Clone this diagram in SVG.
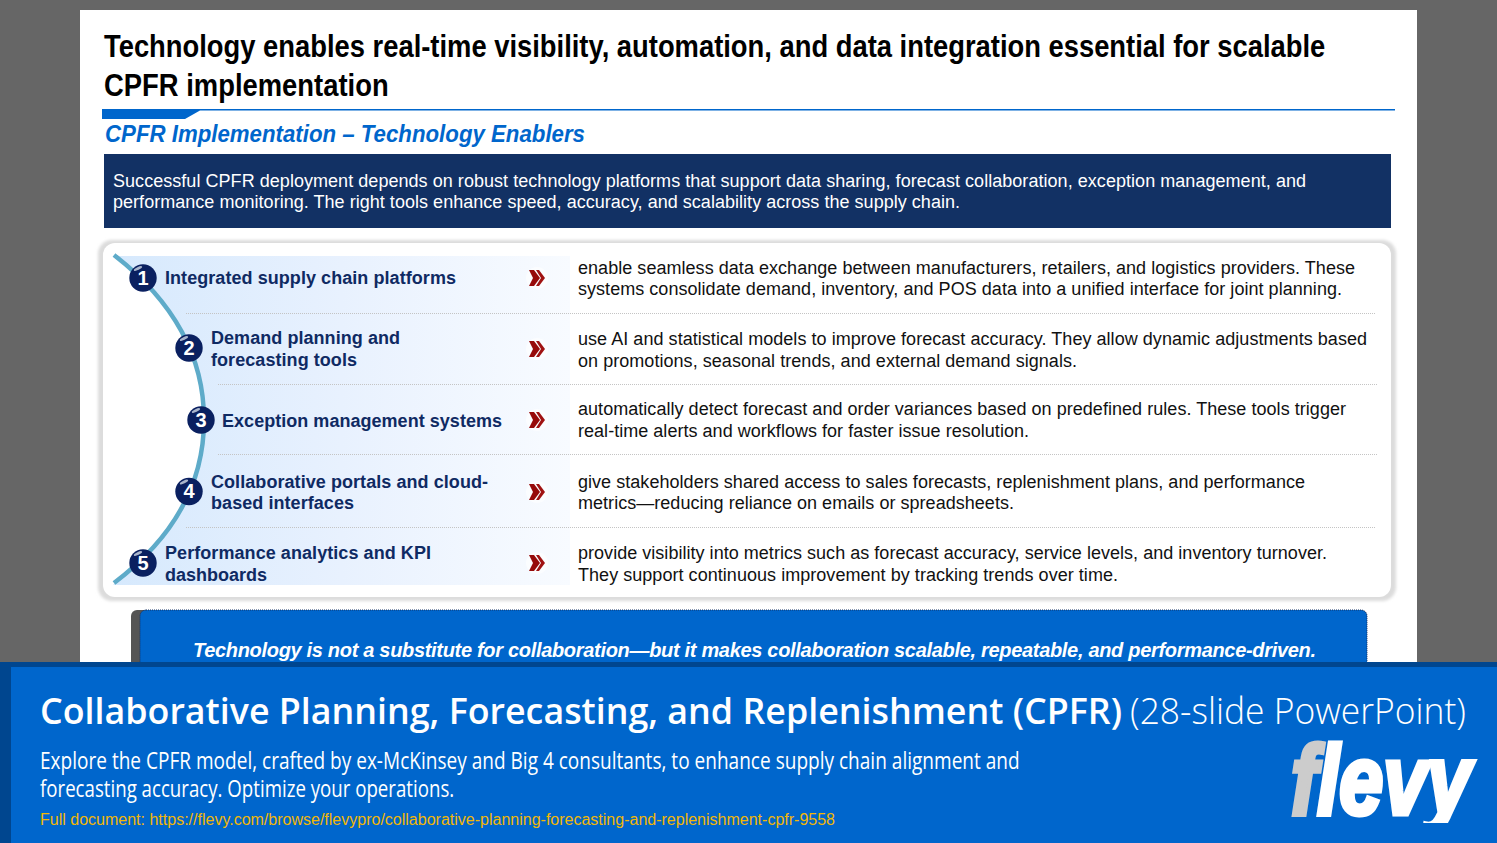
<svg xmlns="http://www.w3.org/2000/svg" width="1497" height="843" viewBox="0 0 1497 843">
<style>
text{font-family:"Liberation Sans",Arial,sans-serif}
.t{font-size:32px;font-weight:700;fill:#000}
.b{font-size:18px;fill:#fff}
.l{font-size:18px;font-weight:700;fill:#0f2a63}
.d{font-size:18px;fill:#111}
.n{font-size:20px;font-weight:700;fill:#fff;text-anchor:middle}
.f{fill:#fff;font-family:"Open Sans",sans-serif}
.sep{stroke:#c4c4c4;stroke-width:1;stroke-dasharray:1 1}
</style>
<defs>
<linearGradient id="g" x1="0" x2="1" y1="0" y2="0"><stop offset="0" stop-color="#d6e9fd"/><stop offset=".5" stop-color="#e8f1fe"/><stop offset="1" stop-color="#f8fbff"/></linearGradient>
<filter id="s" x="-2%" y="-3%" width="104%" height="106%"><feGaussianBlur stdDeviation="1.500"/></filter>
<clipPath id="arcclip"><path d="M113 256H570V585H113L114 584Q204 510 204 420Q204 330 114 256Z"/></clipPath>
<clipPath id="logoclip"><rect x="1280" y="735" width="210" height="88"/></clipPath>
<g id="chev"><circle cx="0" cy="0" r="11" fill="#fff" opacity=".6"/><path d="M-8 -8H-3L3 0L-3 8H-8L-4 0Z" fill="#960a0a"/><path d="M-1 -8H2L8 0L2 8H-1L4 0Z" fill="#a01212"/></g>
<g id="ballbase"><circle r="13.700" fill="#0a2060"/><ellipse cx="-5" cy="-9.500" rx="4.500" ry="1.500" fill="#aab6cc" transform="rotate(-25 -5 -9.500)"/></g>
</defs>
<rect width="1497" height="843" fill="#666"/>
<rect x="80" y="10" width="1337" height="670" fill="#fff"/>
<g id="title">
<text class="t" transform="translate(104 57) scale(.818 1)" textLength="1493" lengthAdjust="spacingAndGlyphs">Technology enables real-time visibility, automation, and data integration essential for scalable</text>
<text class="t" transform="translate(104 96) scale(.818 1)" textLength="348" lengthAdjust="spacingAndGlyphs">CPFR implementation</text>
</g>
<g id="rule">
<path d="M102 109H1395V110.500H200L185 119H102Z" fill="#0066cc"/>
</g>
<text x="105" y="142" font-size="23" font-weight="700" font-style="italic" fill="#0066cc" textLength="480" lengthAdjust="spacingAndGlyphs">CPFR Implementation – Technology Enablers</text>
<g id="banner">
<rect x="104" y="154" width="1287" height="74" fill="#123164"/>
<text class="b" x="113" y="187" textLength="1193" lengthAdjust="spacing">Successful CPFR deployment depends on robust technology platforms that support data sharing, forecast collaboration, exception management, and</text>
<text class="b" x="113" y="208" textLength="847" lengthAdjust="spacing">performance monitoring. The right tools enhance speed, accuracy, and scalability across the supply chain.</text>
</g>
<g id="panel">
<rect x="98" y="240" width="1298" height="361" rx="14" fill="#dcdcdc" filter="url(#s)"/>
<rect x="103" y="243" width="1288" height="354" rx="12" fill="#fff"/>
<rect x="113" y="256" width="457" height="329" fill="url(#g)" clip-path="url(#arcclip)"/>
<line class="sep" x1="186" y1="313.500" x2="1376" y2="313.500"/>
<line class="sep" x1="218" y1="384.500" x2="1377" y2="384.500"/>
<line class="sep" x1="218" y1="454.500" x2="1377" y2="454.500"/>
<line class="sep" x1="186" y1="527.500" x2="1376" y2="527.500"/>
</g>
<g id="connectors">
<path d="M114 255Q204 325 204 420Q204 515 114 583" fill="none" stroke="#5eabc9" stroke-width="4.500"/>
</g>
<g id="node1">
<use href="#ballbase" x="143" y="278"/><text class="n" x="143" y="285">1</text>
<text class="l" x="165" y="284" textLength="291" lengthAdjust="spacing">Integrated supply chain platforms</text>
<use href="#chev" x="537" y="278"/>
<text class="d" x="578" y="274" textLength="777" lengthAdjust="spacing">enable seamless data exchange between manufacturers, retailers, and logistics providers. These</text>
<text class="d" x="578" y="295" textLength="764" lengthAdjust="spacing">systems consolidate demand, inventory, and POS data into a unified interface for joint planning.</text>
</g>
<g id="node2">
<use href="#ballbase" x="189" y="348"/><text class="n" x="189" y="355">2</text>
<text class="l" x="211" y="344" textLength="189" lengthAdjust="spacing">Demand planning and</text>
<text class="l" x="211" y="366" textLength="146" lengthAdjust="spacing">forecasting tools</text>
<use href="#chev" x="537" y="349"/>
<text class="d" x="578" y="345" textLength="789" lengthAdjust="spacing">use AI and statistical models to improve forecast accuracy. They allow dynamic adjustments based</text>
<text class="d" x="578" y="367" textLength="499" lengthAdjust="spacing">on promotions, seasonal trends, and external demand signals.</text>
</g>
<g id="node3">
<use href="#ballbase" x="201" y="420"/><text class="n" x="201" y="427">3</text>
<text class="l" x="222" y="427" textLength="280" lengthAdjust="spacing">Exception management systems</text>
<use href="#chev" x="537" y="420"/>
<text class="d" x="578" y="415" textLength="768" lengthAdjust="spacing">automatically detect forecast and order variances based on predefined rules. These tools trigger</text>
<text class="d" x="578" y="437" textLength="451" lengthAdjust="spacing">real-time alerts and workflows for faster issue resolution.</text>
</g>
<g id="node4">
<use href="#ballbase" x="189" y="491.500"/><text class="n" x="189" y="498">4</text>
<text class="l" x="211" y="488" textLength="277" lengthAdjust="spacing">Collaborative portals and cloud-</text>
<text class="l" x="211" y="509" textLength="143" lengthAdjust="spacing">based interfaces</text>
<use href="#chev" x="537" y="492"/>
<text class="d" x="578" y="488" textLength="727" lengthAdjust="spacing">give stakeholders shared access to sales forecasts, replenishment plans, and performance</text>
<text class="d" x="578" y="509" textLength="436" lengthAdjust="spacing">metrics—reducing reliance on emails or spreadsheets.</text>
</g>
<g id="node5">
<use href="#ballbase" x="143" y="563"/><text class="n" x="143" y="570">5</text>
<text class="l" x="165" y="559" textLength="266" lengthAdjust="spacing">Performance analytics and KPI</text>
<text class="l" x="165" y="581" textLength="102" lengthAdjust="spacing">dashboards</text>
<use href="#chev" x="537" y="563"/>
<text class="d" x="578" y="559" textLength="749" lengthAdjust="spacing">provide visibility into metrics such as forecast accuracy, service levels, and inventory turnover.</text>
<text class="d" x="578" y="581" textLength="540" lengthAdjust="spacing">They support continuous improvement by tracking trends over time.</text>
</g>
<g id="callout">
<rect x="131" y="610" width="1236" height="70" rx="6" fill="#555"/>
<rect x="140" y="610" width="1227" height="70" rx="6" fill="#0066cc" stroke="#123164" stroke-width="1" stroke-dasharray="1 1"/>
<text x="193" y="657" font-size="20" font-weight="700" font-style="italic" fill="#fff" textLength="1123" lengthAdjust="spacing">Technology is not a substitute for collaboration—but it makes collaboration scalable, repeatable, and performance-driven.</text>
</g>
<g id="footer">
<rect x="0" y="662" width="1497" height="181" fill="#00468f"/>
<rect x="11" y="667" width="1486" height="176" fill="#0066cc"/>
<text class="f" x="40" y="724" font-size="36" font-weight="600" textLength="1082" lengthAdjust="spacingAndGlyphs">Collaborative Planning, Forecasting, and Replenishment (CPFR)</text>
<text class="f" x="1130" y="724" font-size="36" font-weight="300" textLength="336" lengthAdjust="spacingAndGlyphs">(28-slide PowerPoint)</text>
<text class="f" transform="translate(40 769) scale(.78 1)" font-size="24" textLength="1256" lengthAdjust="spacingAndGlyphs">Explore the CPFR model, crafted by ex-McKinsey and Big 4 consultants, to enhance supply chain alignment and</text>
<text class="f" transform="translate(40 797) scale(.78 1)" font-size="24" textLength="531" lengthAdjust="spacingAndGlyphs">forecasting accuracy. Optimize your operations.</text>
<text x="40" y="825" font-size="16" fill="#f2b705" textLength="795" lengthAdjust="spacing">Full document: https://flevy.com/browse/flevypro/collaborative-planning-forecasting-and-replenishment-cpfr-9558</text>
</g>
<g id="logo" clip-path="url(#logoclip)">
<text transform="translate(1291 814) scale(.8 1)" font-size="98" font-weight="700" font-style="italic" stroke-width="5" textLength="225" lengthAdjust="spacingAndGlyphs"><tspan fill="#ccc" stroke="#ccc">f</tspan><tspan fill="#fff" stroke="#fff">levy</tspan></text>
</g>
</svg>
